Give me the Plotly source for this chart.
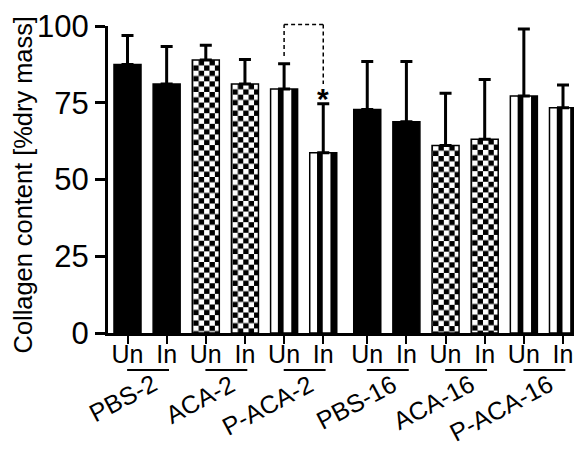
import base64
import plotly.graph_objects as go

# ---------------- data ----------------
groups = ["PBS-2", "ACA-2", "P-ACA-2", "PBS-16", "ACA-16", "P-ACA-16"]
conditions = ["Un", "In"]
means = [87.5, 81.1, 88.9, 81.1, 79.5, 58.7, 72.8, 68.8, 61.1, 63.1, 77.2, 73.4]
errors_up = [9.4, 12.2, 4.8, 8.0, 8.2, 16.0, 15.6, 19.6, 17.0, 19.5, 21.8, 7.4]
fills = ["solid", "solid", "checker", "checker", "stripe", "stripe",
         "solid", "solid", "checker", "checker", "stripe", "stripe"]
y_ticks = [0, 25, 50, 75, 100]
y_title = "Collagen content [%dry mass]"
# significance bracket between P-ACA-2 Un and In: left start, top, right end
bracket_pair = [4, 5]
bracket_levels = [90.2, 100.5, 81.1]
sig_label = "<b>*</b>"

# ---------------- layout geometry ----------------
PAGE_OFF = 8                      # default body margin of the html page
W, H = 582 - PAGE_OFF, 449 - PAGE_OFF
L, R, T = 108 - PAGE_OFF, 1, 21 - PAGE_OFF
plot_h = 312
B = H - T - plot_h
plot_w = W - L - R
PX_PER_X = 39.15
GROUP_GAP = 0.124
BAR_W = 0.69
YMAX = 100
XMIN = -0.498
XMAX = XMIN + plot_w / PX_PER_X
PX_PER_Y = plot_h / YMAX
CELL = 5.4

xpos = [i + (GROUP_GAP if i >= 6 else 0) for i in range(len(means))]
ticktext = [c for _ in groups for c in conditions]

FONT = "Liberation Sans, Arial, Helvetica, sans-serif"


def svg_uri(svg):
    return "data:image/svg+xml;base64," + base64.b64encode(svg.encode()).decode()


def checker_svg(w, h):
    c = CELL
    return (f'<svg xmlns="http://www.w3.org/2000/svg" width="{w:.2f}" height="{h:.2f}" '
            f'viewBox="0 0 {w:.2f} {h:.2f}" preserveAspectRatio="none">'
            f'<defs><pattern id="p" x="1" y="0" width="{2*c}" height="{2*c}" patternUnits="userSpaceOnUse">'
            f'<rect width="{2*c}" height="{2*c}" fill="white"/>'
            f'<rect x="{c}" y="0" width="{c}" height="{c}" fill="black"/>'
            f'<rect x="0" y="{c}" width="{c}" height="{c}" fill="black"/>'
            '</pattern></defs>'
            f'<rect x="0" y="0" width="{w:.2f}" height="{h:.2f}" fill="url(#p)"/></svg>')


def stripe_svg(w, h):
    return (f'<svg xmlns="http://www.w3.org/2000/svg" width="{w:.2f}" height="{h:.2f}" '
            f'viewBox="0 0 {w:.2f} {h:.2f}" preserveAspectRatio="none">'
            f'<rect x="0" y="0" width="{w:.2f}" height="{h:.2f}" fill="white"/>'
            f'<rect x="7.3" y="0" width="5.7" height="{h:.2f}" fill="black"/>'
            f'<rect x="20.7" y="0" width="{w - 20.7:.2f}" height="{h:.2f}" fill="black"/></svg>')


images = []
for x, m, f in zip(xpos, means, fills):
    if f == "solid":
        continue
    wpx = BAR_W * PX_PER_X
    hpx = m * PX_PER_Y
    svg = checker_svg(wpx, hpx) if f == "checker" else stripe_svg(wpx, hpx)
    images.append(dict(source=svg_uri(svg), xref="x", yref="y",
                       x=x - BAR_W / 2, y=m, sizex=BAR_W, sizey=m,
                       sizing="stretch", xanchor="left", yanchor="top",
                       layer="below"))

fig = go.Figure()
fig.add_trace(go.Bar(
    x=xpos, y=means, width=BAR_W,
    marker=dict(color=["black" if f == "solid" else "rgba(0,0,0,0)" for f in fills],
                line=dict(color="black", width=1.5)),
    error_y=dict(type="data", array=errors_up, arrayminus=[0] * len(means),
                 symmetric=False, color="black", thickness=3, width=6),
    showlegend=False, hoverinfo="skip",
))

shapes = []
# group underlines
for g in range(len(groups)):
    shapes.append(dict(type="line", xref="x", yref="paper",
                       x0=xpos[2 * g] - 0.01, x1=xpos[2 * g + 1] + 0.06,
                       y0=-37.5 / plot_h, y1=-37.5 / plot_h,
                       line=dict(color="black", width=2)))
# significance bracket
a, b = bracket_pair
lv0, top, lv1 = bracket_levels
dash = dict(color="black", width=1.5, dash="4px,3px")
shapes += [
    dict(type="line", xref="x", yref="paper", x0=xpos[a], x1=xpos[a],
         y0=lv0 / YMAX, y1=top / YMAX, line=dash),
    dict(type="line", xref="x", yref="paper", x0=xpos[a], x1=xpos[b],
         y0=top / YMAX, y1=top / YMAX, line=dash),
    dict(type="line", xref="x", yref="paper", x0=xpos[b], x1=xpos[b],
         y0=top / YMAX, y1=lv1 / YMAX, line=dash),
]

annotations = []
for g, name in enumerate(groups):
    annotations.append(dict(text=name, xref="x", yref="paper",
                            x=xpos[2 * g + 1] - 0.07, y=-34 / plot_h,
                            xanchor="right", yanchor="top", textangle=-28,
                            showarrow=False,
                            font=dict(family=FONT, size=25, color="black")))
annotations.append(dict(text=y_title, xref="paper", yref="paper",
                        x=(22.5 - 108) / plot_w, y=(333 - 182.5) / plot_h,
                        xanchor="center", yanchor="middle", textangle=-90,
                        showarrow=False,
                        font=dict(family=FONT, size=25.4, color="black")))
annotations.append(dict(text=sig_label, xref="x", yref="y",
                        x=xpos[b], y=means[b] + errors_up[b],
                        xanchor="center", yanchor="middle", yshift=5,
                        showarrow=False,
                        font=dict(family=FONT, size=30, color="black")))

fig.update_layout(
    width=W, height=H,
    margin=dict(l=L, r=R, t=T, b=B, pad=0),
    paper_bgcolor="white", plot_bgcolor="rgba(0,0,0,0)",
    font=dict(family=FONT, color="black"),
    images=images, shapes=shapes, annotations=annotations,
    xaxis=dict(range=[XMIN, XMAX], tickvals=xpos, ticktext=ticktext,
               ticks="outside", ticklen=8, tickwidth=2, tickcolor="black",
               ticklabelstandoff=-11, ticklabeloverflow="allow",
               showline=True, linewidth=3, linecolor="black",
               showgrid=False, zeroline=False,
               tickfont=dict(family=FONT, size=25, color="black")),
    yaxis=dict(range=[0, YMAX], tickvals=y_ticks,
               ticks="outside", ticklen=10, tickwidth=3, tickcolor="black",
               ticklabeloverflow="allow",
               showline=True, linewidth=3, linecolor="black",
               showgrid=False, zeroline=False,
               tickfont=dict(family=FONT, size=31, color="black")),
)

fig.write_html("out.html")
